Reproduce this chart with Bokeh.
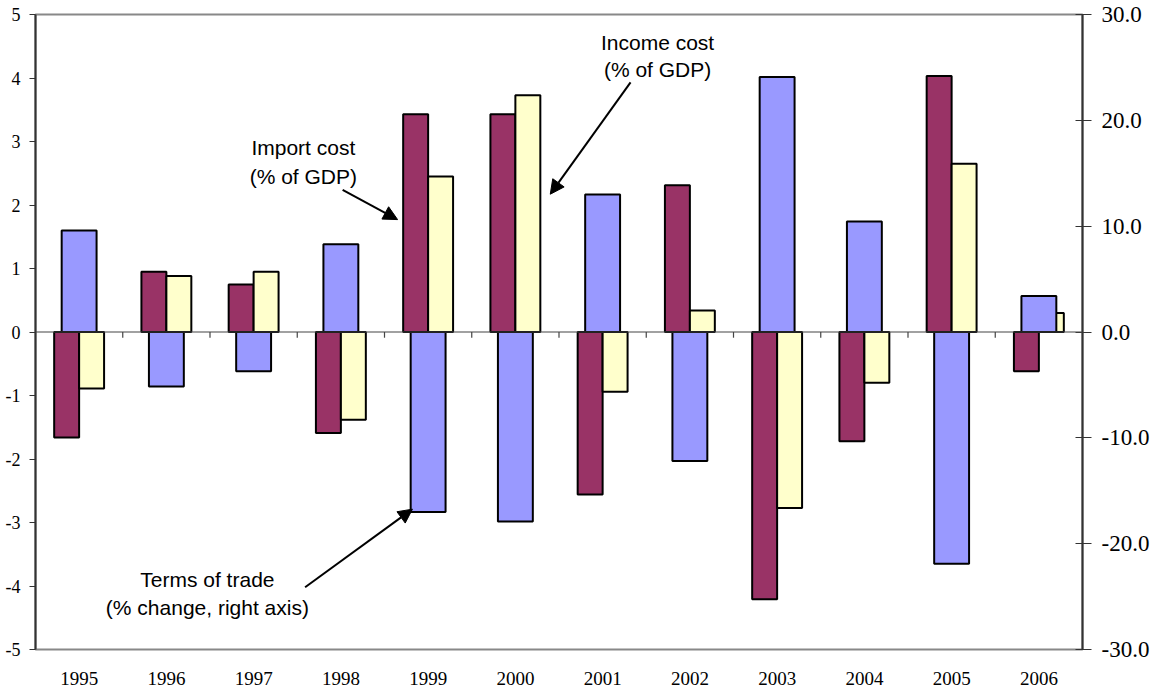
from bokeh.plotting import figure
from bokeh.models import (ColumnDataSource, Range1d, LinearAxis, FixedTicker,
                          NumeralTickFormatter, Span, Arrow, NormalHead)
from bokeh.core.properties import value
from bokeh.embed import file_html
from bokeh.resources import INLINE

years = ["1995", "1996", "1997", "1998", "1999", "2000",
         "2001", "2002", "2003", "2004", "2005", "2006"]
import_cost = [-1.66, 0.95, 0.75, -1.59, 3.43, 3.43, -2.56, 2.31, -4.21, -1.72, 4.03, -0.62]
income_cost = [-0.89, 0.88, 0.95, -1.38, 2.45, 3.73, -0.94, 0.34, -2.77, -0.80, 2.65, 0.30]
terms_of_trade = [9.6, -5.15, -3.7, 8.3, -17.0, -17.9, 13.0, -12.2, 24.1, 10.45, -21.9, 3.4]

left_ticks = [-5, -4, -3, -2, -1, 0, 1, 2, 3, 4, 5]
right_ticks = [-30, -20, -10, 0, 10, 20, 30]

n = len(years)
pair_w = 0.286
single_w = 0.40

src = ColumnDataSource(data={
    "pos": list(range(n)),
    "pos_imp": [i - pair_w / 2 for i in range(n)],
    "pos_inc": [i + pair_w / 2 for i in range(n)],
    "imp": import_cost,
    "inc": income_cost,
    "tot": terms_of_trade,
})

p = figure(
    frame_width=1047, frame_height=635,
    x_range=Range1d(-0.5, n - 0.5), y_range=Range1d(-5, 5),
    tools="", toolbar_location=None, output_backend="svg",
)
p.min_border_left = 35
p.min_border_right = 70
p.min_border_top = 14
p.min_border_bottom = 30
p.extra_y_ranges = {"tot": Range1d(-30, 30)}

p.xgrid.grid_line_color = None
p.ygrid.grid_line_color = None
p.outline_line_color = "#888888"
p.outline_line_width = 2
p.background_fill_color = "white"
p.border_fill_color = "white"

# category axis: year labels only, tick marks sit on the zero line
p.xaxis.ticker = FixedTicker(ticks=list(range(n)))
p.xaxis.major_label_overrides = {i: y for i, y in enumerate(years)}
p.xaxis.axis_line_color = None
p.xaxis.major_tick_line_color = None
p.xaxis.minor_tick_line_color = None
p.xaxis.major_tick_out = 0
p.xaxis.major_label_standoff = 22
p.xaxis.major_label_text_font = "Liberation Serif"
p.xaxis.major_label_text_font_size = "19px"
p.xaxis.major_label_text_color = "black"

# left axis (% of GDP)
p.yaxis.ticker = FixedTicker(ticks=left_ticks)
p.yaxis.major_label_overrides = {t: str(t) for t in left_ticks}
p.yaxis.axis_line_color = "#333333"
p.yaxis.axis_line_width = 2
p.yaxis.major_tick_line_color = "#333333"
p.yaxis.major_tick_out = 6
p.yaxis.major_tick_in = 0
p.yaxis.minor_tick_line_color = None
p.yaxis.major_label_standoff = 9
p.yaxis.major_label_text_font = "Liberation Serif"
p.yaxis.major_label_text_font_size = "18px"
p.yaxis.major_label_text_color = "black"

# right axis (terms of trade)
raxis = LinearAxis(y_range_name="tot", ticker=FixedTicker(ticks=right_ticks),
                   formatter=NumeralTickFormatter(format="0.0"))
raxis.axis_line_color = "#333333"
raxis.axis_line_width = 2
raxis.major_tick_line_color = "#333333"
raxis.major_tick_out = 9
raxis.major_tick_in = 7
raxis.minor_tick_line_color = None
raxis.major_label_standoff = 10
raxis.major_label_text_font = "Liberation Serif"
raxis.major_label_text_font_size = "23px"
raxis.major_label_text_color = "black"
p.add_layout(raxis, "right")

p.add_layout(Span(location=0, dimension="width", line_color="#444444", line_width=1.2))
p.segment(x0=[i + 0.5 for i in range(n - 1)], y0=0,
          x1=[i + 0.5 for i in range(n - 1)], y1=-0.09,
          line_color="#444444", line_width=1.2)

p.vbar(x="pos_imp", top="imp", bottom=0, width=pair_w, source=src,
       fill_color="#993366", line_color="black", line_width=2)
p.vbar(x="pos_inc", top="inc", bottom=0, width=pair_w, source=src,
       fill_color="#FFFFCC", line_color="black", line_width=2)
p.vbar(x="pos", top="tot", bottom=0, width=single_w, source=src, y_range_name="tot",
       fill_color="#9999FF", line_color="black", line_width=2)

# annotations
notes = [
    (2.57, [2.90, 2.45], ["Import cost", "(% of GDP)"], (3.02, 2.24), (3.65, 1.77)),
    (6.63, [4.56, 4.13], ["Income cost", "(% of GDP)"], (6.32, 3.93), (5.40, 2.17)),
    (1.47, [-3.90, -4.34], ["Terms of trade", "(% change, right axis)"], (2.59, -4.02), (3.82, -2.79)),
]
for x, ys, lines, start, end in notes:
    p.text(x=[x] * len(lines), y=ys, text=lines,
           text_font=value("Liberation Sans"), text_font_size="21px",
           text_align="center", text_baseline="middle", text_color="black")
    p.add_layout(Arrow(end=NormalHead(size=14, fill_color="black", line_color="black"),
                       x_start=start[0], y_start=start[1], x_end=end[0], y_end=end[1],
                       line_color="black", line_width=2))

open("out.html", "w").write(file_html(p, INLINE))
